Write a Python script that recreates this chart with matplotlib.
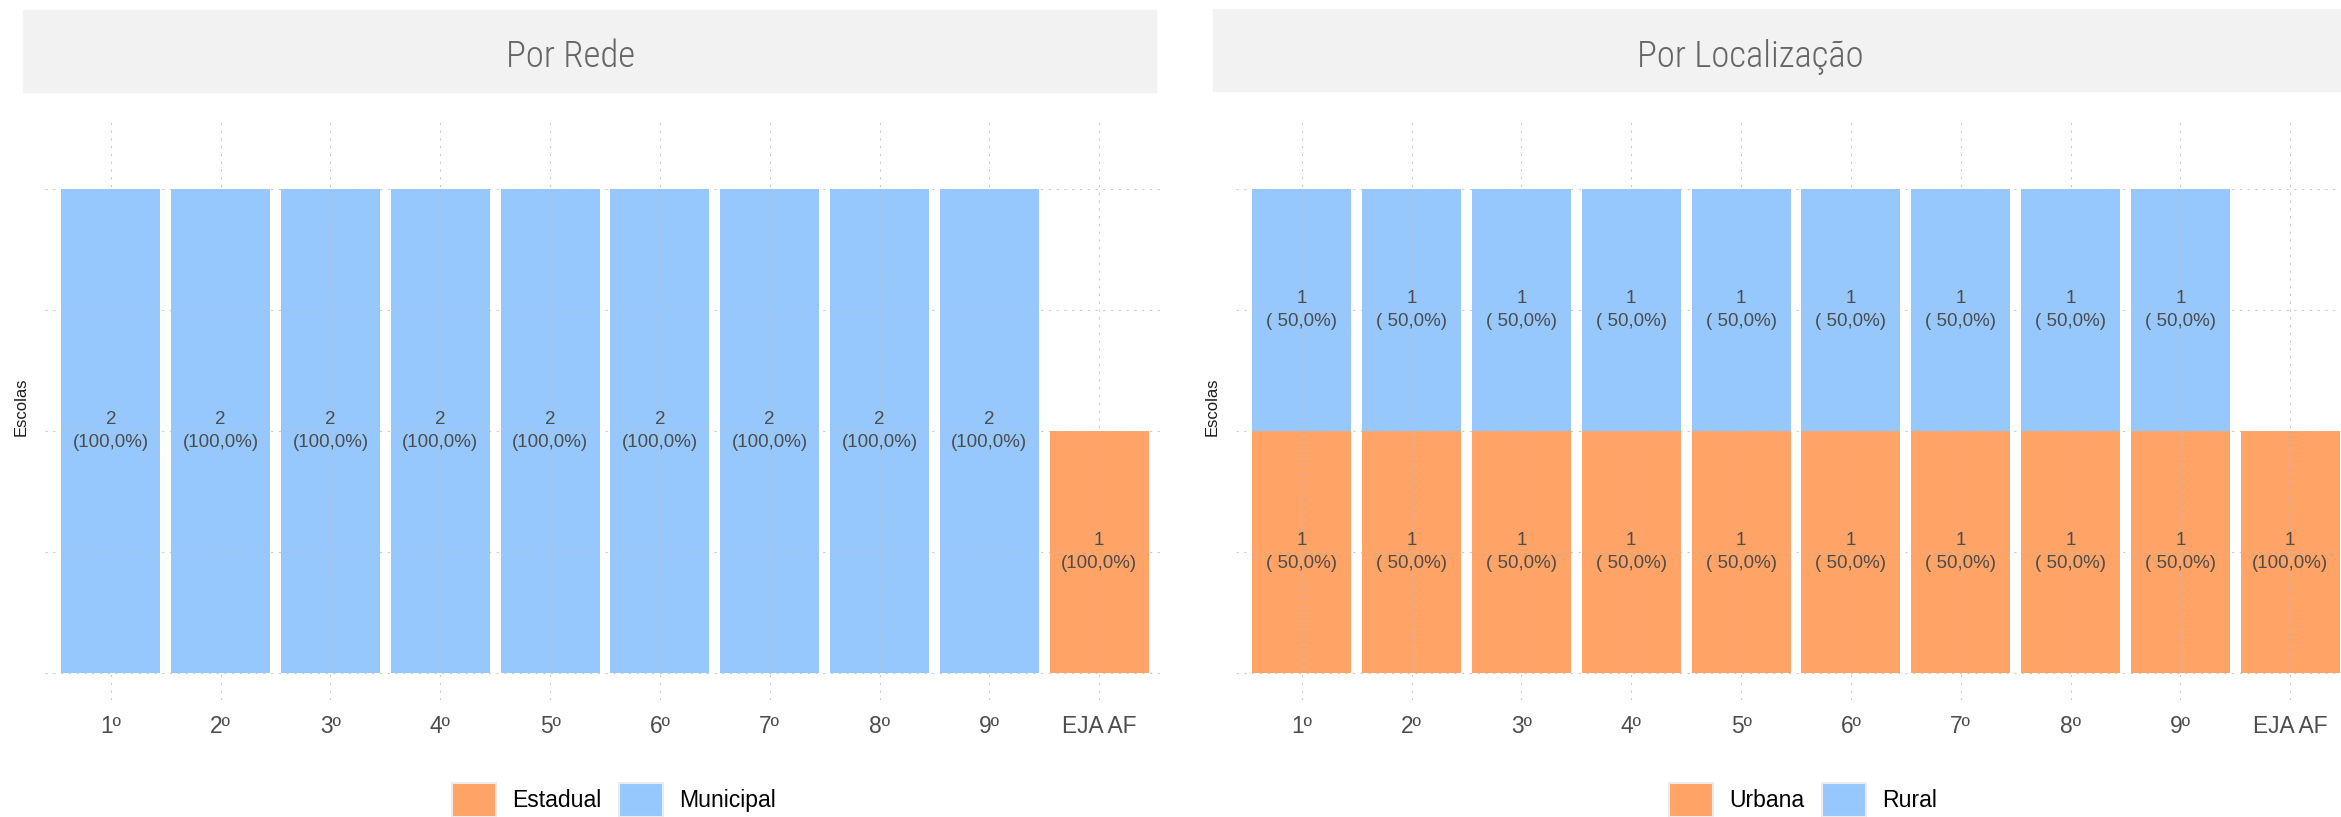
import numpy as np
import matplotlib
matplotlib.use("Agg")
import matplotlib.pyplot as plt
from matplotlib.patches import Patch, Rectangle
from matplotlib import font_manager

# -------------------------------
# Dados
# -------------------------------
etapas = ["1º", "2º", "3º", "4º", "5º", "6º", "7º", "8º", "9º", "EJA AF"]

# Por Rede
rede_estadual = [0, 0, 0, 0, 0, 0, 0, 0, 0, 1]
rede_municipal = [2, 2, 2, 2, 2, 2, 2, 2, 2, 0]

# Por Localização
loc_urbana = [1, 1, 1, 1, 1, 1, 1, 1, 1, 1]
loc_rural = [1, 1, 1, 1, 1, 1, 1, 1, 1, 0]

cor_laranja = "#FFA366"
cor_azul = "#96C8FE"

# fonte do título (condensada se houver)
nomes = {f.name for f in font_manager.fontManager.ttflist}
fonte_titulo = "DejaVu Sans"
for nome in ["Roboto Condensed", "Liberation Sans Narrow", "DejaVu Sans"]:
    if nome in nomes:
        fonte_titulo = nome
        break

plt.rcParams["font.family"] = ["Liberation Sans", "DejaVu Sans"]

W, H = 2341, 817
fig = plt.figure(figsize=(W / 100, H / 100), dpi=100)


def caixa(x0, x1, y0, y1):
    # converte pixels (origem no topo) para fração da figura
    return [x0 / W, 1 - y1 / H, (x1 - x0) / W, (y1 - y0) / H]


def painel(rect, baixo, cima, nome_baixo, nome_cima, titulo, faixa, tx, ylab_x, leg_x):
    ax = fig.add_axes(caixa(*rect))
    x = np.arange(len(etapas))
    baixo = np.array(baixo)
    cima = np.array(cima)
    total = baixo + cima
    ax.bar(x, baixo, width=0.9, color=cor_laranja, zorder=1)
    ax.bar(x, cima, bottom=baixo, width=0.9, color=cor_azul, zorder=1)

    # rótulos: valor e percentual no meio de cada segmento
    for i in range(len(x)):
        for base, v in [(0, baixo[i]), (baixo[i], cima[i])]:
            if v > 0:
                p = v / total[i] * 100
                txt = f"{v}\n({p:5.1f}%)".replace(".", ",")
                ax.text(x[i], base + v / 2, txt, ha="center", va="center",
                        fontsize=13.5, color="#4d4d4d", linespacing=1.4, zorder=4)

    ax.set_xlim(-0.6, len(x) - 0.4)
    ax.set_ylim(-0.1116, 2.2934)
    ax.set_xticks(x)
    ax.set_xticklabels(etapas, fontsize=16.4, color="#4d4d4d")
    ax.set_yticks([0, 0.5, 1, 1.5, 2])
    ax.set_yticklabels([])
    ax.tick_params(length=0, pad=11)
    for s in ax.spines.values():
        s.set_visible(False)
    ax.set_axisbelow(False)
    ax.grid(True, color="#bdbdbd", linewidth=0.8, linestyle=(0, (2, 5)), alpha=0.8)

    # faixa do título
    fig.patches.append(Rectangle((faixa[0] / W, 1 - faixa[3] / H),
                                 (faixa[1] - faixa[0]) / W, (faixa[3] - faixa[2]) / H,
                                 transform=fig.transFigure, color="#F2F2F2", zorder=0))
    fig.text(tx / W, 1 - 57 / H, titulo, ha="center", va="center",
             fontsize=26.5, color="#666666", family=fonte_titulo, fontweight="light")

    fig.text(ylab_x / W, 1 - 407 / H, "Escolas", rotation=90, ha="center",
             va="center", fontsize=12, color="#1a1a1a")

    handles = [Patch(facecolor=cor_laranja, edgecolor="#EBEBEB", linewidth=1.5),
               Patch(facecolor=cor_azul, edgecolor="#EBEBEB", linewidth=1.5)]
    fig.legend(handles, [nome_baixo, nome_cima], loc="upper center",
               bbox_to_anchor=(leg_x / W, 1 - 783 / H), ncol=2, frameon=False,
               fontsize=16.6, handlelength=1.9, handleheight=1.9,
               handletextpad=0.7, columnspacing=0.75, borderpad=0, borderaxespad=0)
    return ax


painel((45, 1165, 118, 700), rede_estadual, rede_municipal, "Estadual", "Municipal",
       "Por Rede", (23, 1156, 10, 92), 571, 21, 614)
painel((1236, 2356, 118, 700), loc_urbana, loc_rural, "Urbana", "Rural",
       "Por Localização", (1213, 2341, 9, 91), 1750, 1212, 1803)

fig.savefig("out.png", dpi=100)
